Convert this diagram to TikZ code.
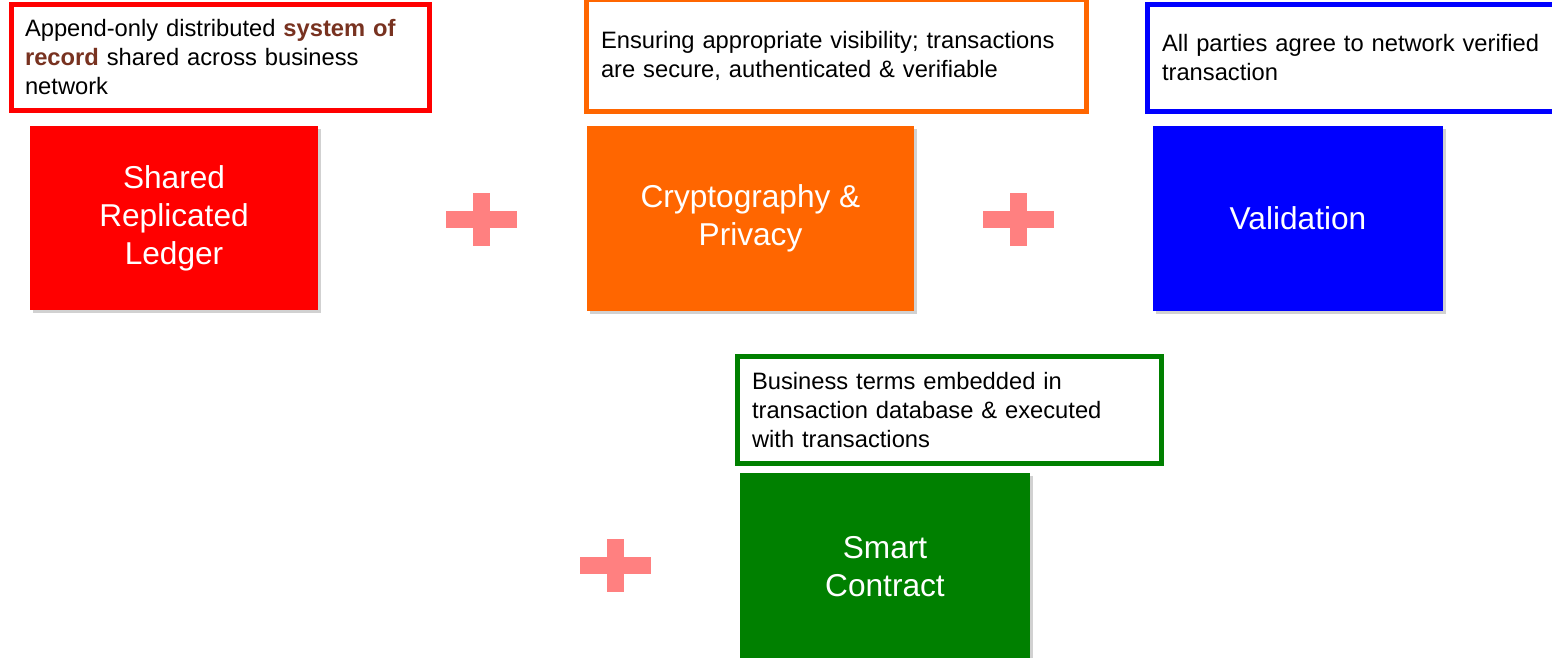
\documentclass[tikz,border=0pt]{standalone}
\usepackage{fontspec}
\setmainfont{Liberation Sans}
\usetikzlibrary{shadows}
\definecolor{ledgerred}{RGB}{255,0,0}
\definecolor{cryptoorange}{RGB}{255,102,0}
\definecolor{validblue}{RGB}{0,0,255}
\definecolor{contractgreen}{RGB}{0,128,0}
\definecolor{pluspink}{RGB}{255,128,128}
\definecolor{recordbrown}{RGB}{120,50,32}
\tikzset{
    my-note/.style={
        draw=#1, line width=0.1cm, fill=white, align=left, inner xsep=0.28cm,
        font=\fontsize{13.5pt}{16.5pt}\selectfont
    },
    my-block/.style={
        fill=#1, text=white, align=center,
        minimum width=5.8cm, minimum height=3.7cm,
        font=\fontsize{18pt}{21.6pt}\selectfont,
        drop shadow={shadow xshift=1.5pt, shadow yshift=-1.5pt, opacity=.3, fill=black!60}
    },
}

\begin{document}
\begin{tikzpicture}[x=0.02cm, y=-0.02cm]
        \useasboundingbox (0,0) rectangle (1552,658);

        % NOTES ABOVE THE BLOCKS
        \node[my-note=ledgerred, text width=7.82cm, minimum width=8.36cm, minimum height=2.12cm]
            (LEDGERNOTE)   at (220.5,57.5)   {Append-only distributed \textbf{\color{recordbrown}system of}\\ \textbf{\color{recordbrown}record} shared across business\\ network};
        \node[my-note=cryptoorange, text width=9.42cm, minimum width=10cm, minimum height=2.24cm]
            (CRYPTONOTE)   at (836.5,55.5)   {Ensuring appropriate visibility; transactions\\ are secure, authenticated \& verifiable};
        \node[my-note=validblue, text width=7.67cm, minimum width=8.25cm, minimum height=2.14cm]
            (VALIDNOTE)    at (1353.75,58)   {All parties agree to network verified\\ transaction};
        \node[my-note=contractgreen, text width=7.9cm, minimum width=8.5cm, minimum height=2.15cm]
            (CONTRACTNOTE) at (949.5,410.25) {Business terms embedded in\\ transaction database \& executed\\ with transactions};

        % BLOCKS
        \node[my-block=ledgerred, minimum width=5.76cm, minimum height=3.68cm]
            (LEDGER)   at (174,218)     {Shared\\ Replicated\\ Ledger};
        \node[my-block=cryptoorange, minimum width=6.54cm]
            (CRYPTO)   at (750.5,218.5) {Cryptography \&\\ Privacy};
        \node[my-block=validblue]
            (VALID)    at (1298,218.5)  {Validation};
        \node[my-block=contractgreen, minimum height=3.74cm]
            (CONTRACT) at (885,566.5)   {Smart\\ Contract};

        % PLUS SIGNS
        \foreach \cx/\cy in {481.5/219.5, 1018.5/219.5, 615.5/565.5} {
            \fill[pluspink] (\cx-35.5,\cy-8.5) rectangle (\cx+35.5,\cy+8.5);
            \fill[pluspink] (\cx-8.5,\cy-26.5) rectangle (\cx+8.5,\cy+26.5);
        }

    \end{tikzpicture}
\end{document}
